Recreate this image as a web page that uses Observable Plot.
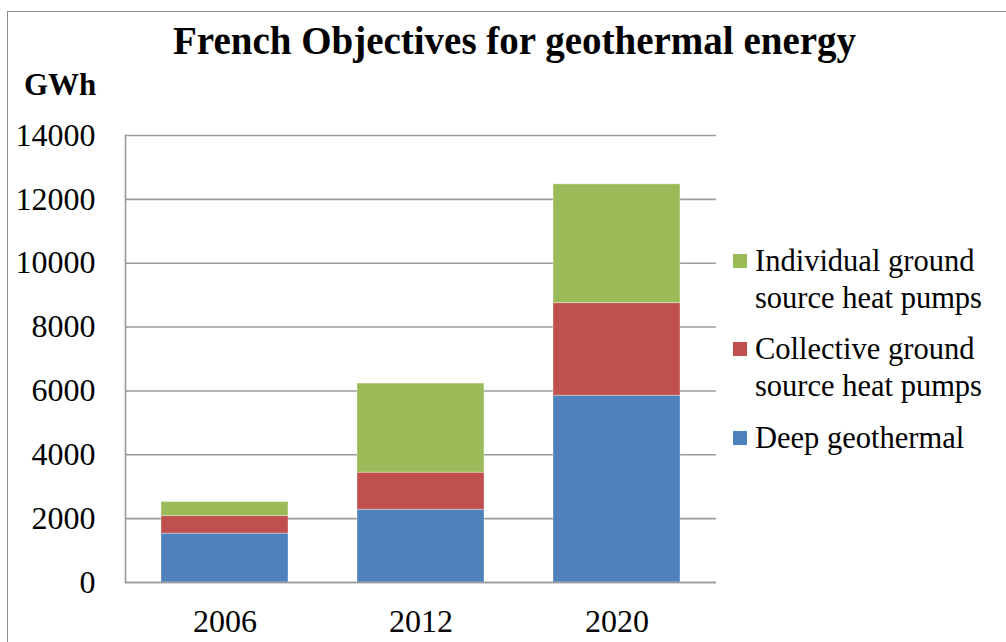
<!DOCTYPE html>
<html>
<head>
<meta charset="utf-8">
<script src="https://cdn.jsdelivr.net/npm/d3@7"></script>
<script src="https://cdn.jsdelivr.net/npm/@observablehq/plot@0.6"></script>
<style>
  html, body { margin: 0; padding: 0; background: #fff; }
  #wrap { position: relative; width: 1006px; height: 642px; overflow: hidden; background: #fff; font-family: "Liberation Serif", "Times New Roman", serif; color: #000; }
  #border { position: absolute; left: 7px; top: 11px; width: 1100px; height: 800px; border: 1.5px solid #8c8c8c; box-sizing: border-box; }
  #title { position: absolute; left: 0; width: 1029px; top: 17px; text-align: center; font-weight: bold; font-size: 39px; line-height: 48px; white-space: nowrap; }
  #unit { position: absolute; left: 24px; top: 66px; font-weight: bold; font-size: 31px; line-height: 38px; }
  #chart { position: absolute; left: 0; top: 100px; }
  #legend { position: absolute; left: 733px; top: 243px; font-size: 30.5px; line-height: 36.7px; }
  .item { display: flex; align-items: flex-start; margin-bottom: 15px; }
  .sw { width: 14px; height: 14px; margin-top: 11px; margin-right: 8px; flex: none; }
</style>
</head>
<body>
<div id="wrap">
  <div id="border"></div>
  <div id="title">French Objectives for geothermal energy</div>
  <div id="unit">GWh</div>
  <div id="chart"></div>
  <div id="legend"></div>
</div>
<script>
const years = ["2006", "2012", "2020"];
const seriesNames = ["Deep geothermal", "Collective ground source heat pumps", "Individual ground source heat pumps"];
const deepGeothermal = [1530, 2280, 5850];
const collectiveGSHP = [550, 1160, 2900];
const individualGSHP = [440, 2790, 3720];
const yTicks = [0, 2000, 4000, 6000, 8000, 10000, 12000, 14000];
const colors = ["#4F81BD", "#C0504D", "#9BBB59"];
const legendLines = [
  ["Individual ground", "source heat pumps"],
  ["Collective ground", "source heat pumps"],
  ["Deep geothermal"]
];

const seriesValues = [deepGeothermal, collectiveGSHP, individualGSHP];
const data = [];
seriesNames.forEach((s, i) => years.forEach((y, j) => data.push({year: y, series: s, value: seriesValues[i][j]})));

const chart = Plot.plot({
  width: 720,
  height: 542,
  marginTop: 35,
  marginBottom: 60,
  marginLeft: 125,
  marginRight: 4,
  style: {fontFamily: "Liberation Serif, Times New Roman, serif", fontSize: "32px", color: "#000", background: "transparent"},
  x: {domain: years, paddingInner: 0.35, paddingOuter: 0.18, label: null},
  y: {domain: [0, 14000], label: null},
  color: {domain: seriesNames, range: colors},
  marks: [
    Plot.gridY(yTicks, {stroke: "#9a9a9a", strokeOpacity: 1, strokeWidth: 1.6}),
    Plot.frame({anchor: "left", stroke: "#9a9a9a", strokeWidth: 1.6}),
    Plot.barY(data, {x: "year", y: "value", fill: "series", stroke: "#ffffff", strokeOpacity: 0.35, strokeWidth: 1}),
    Plot.ruleY([0], {stroke: "#9a9a9a", strokeWidth: 1.6}),
    Plot.axisY(yTicks, {tickSize: 0, tickPadding: 30, tickFormat: d => String(d), fontSize: 32, fill: "#000"}),
    Plot.axisX({tickSize: 0, tickPadding: 27, fontSize: 32, fill: "#000"})
  ]
});
document.getElementById("chart").appendChild(chart);

const legend = document.getElementById("legend");
[2, 1, 0].forEach((i, k) => {
  const item = document.createElement("div");
  item.className = "item";
  const sw = document.createElement("div");
  sw.className = "sw";
  sw.style.background = colors[i];
  const txt = document.createElement("div");
  txt.innerHTML = legendLines[k].join("<br>");
  item.appendChild(sw);
  item.appendChild(txt);
  legend.appendChild(item);
});
</script>
</body>
</html>
